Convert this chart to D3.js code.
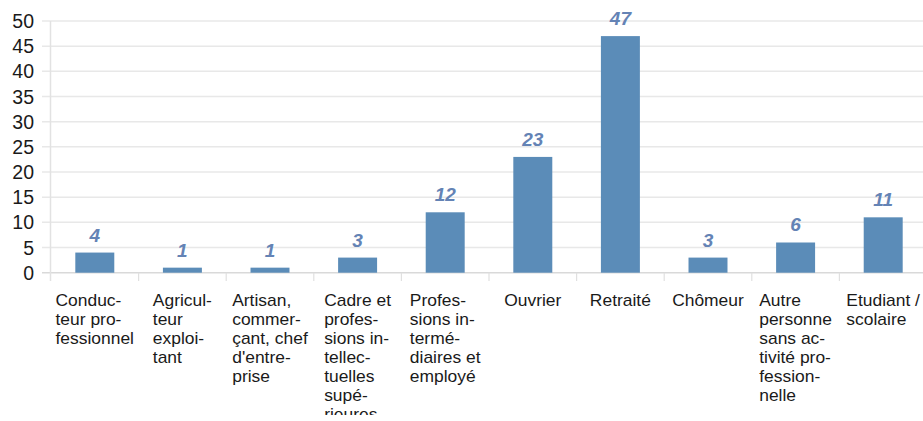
<!DOCTYPE html>
<html>
<head>
<meta charset="utf-8">
<script src="https://cdn.jsdelivr.net/npm/d3@7"></script>
<style>
  html, body { margin: 0; padding: 0; background: #fff; }
  svg { display: block; }
</style>
</head>
<body>
<svg id="chart" width="923" height="421"></svg>
<script>
// Répartition par catégorie socio-professionnelle
const categories = [
  ["Conduc-", "teur pro-", "fessionnel"],
  ["Agricul-", "teur", "exploi-", "tant"],
  ["Artisan,", "commer-", "çant, chef", "d'entre-", "prise"],
  ["Cadre et", "profes-", "sions in-", "tellec-", "tuelles", "supé-", "rieures"],
  ["Profes-", "sions in-", "termé-", "diaires et", "employé"],
  ["Ouvrier"],
  ["Retraité"],
  ["Chômeur"],
  ["Autre", "personne", "sans ac-", "tivité pro-", "fession-", "nelle"],
  ["Etudiant /", "scolaire"]
];
const values = [4, 1, 1, 3, 12, 23, 47, 3, 6, 11];
const yTicks = [0, 5, 10, 15, 20, 25, 30, 35, 40, 45, 50];

const svg = d3.select("#chart");

const x = d3.scaleBand()
  .domain(d3.range(categories.length))
  .range([51, 927])
  .paddingInner(0.555)
  .paddingOuter(0.2775);

const y = d3.scaleLinear().domain([0, 50]).range([272.7, 21]);

// clip for the category labels (the chart area ends just above the bottom edge)
svg.append("defs").append("clipPath").attr("id", "labelClip")
  .append("rect").attr("x", 0).attr("y", 280).attr("width", 923).attr("height", 135);

// horizontal gridlines
svg.append("g")
  .selectAll("line")
  .data(yTicks)
  .join("line")
  .attr("x1", 42).attr("x2", 923)
  .attr("y1", d => y(d)).attr("y2", d => y(d))
  .attr("stroke", d => d === 0 ? "#d9d9d9" : "#e8e8e8")
  .attr("stroke-width", 1.5);

// vertical axis line
svg.append("line")
  .attr("x1", 50.5).attr("x2", 50.5)
  .attr("y1", y(50)).attr("y2", 281)
  .attr("stroke", "#e2e2e2").attr("stroke-width", 1.5);

// category separators below the baseline
svg.append("g")
  .selectAll("line")
  .data(d3.range(1, categories.length))
  .join("line")
  .attr("x1", i => x(i) - x.step() * x.paddingInner() / 2)
  .attr("x2", i => x(i) - x.step() * x.paddingInner() / 2)
  .attr("y1", y(0)).attr("y2", 281)
  .attr("stroke", "#e0e0e0").attr("stroke-width", 1.2);

// y tick labels
svg.append("g")
  .selectAll("text")
  .data(yTicks)
  .join("text")
  .attr("x", 34)
  .attr("y", d => y(d))
  .attr("dy", "0.36em")
  .attr("text-anchor", "end")
  .attr("font-family", "Liberation Sans, Arial, sans-serif")
  .attr("font-size", 19.5)
  .attr("fill", "#1a1a1a")
  .text(d => d);

// bars
svg.append("g")
  .selectAll("rect")
  .data(values)
  .join("rect")
  .attr("x", (d, i) => x(i))
  .attr("width", x.bandwidth())
  .attr("y", d => y(d))
  .attr("height", d => y(0) - y(d))
  .attr("fill", "#5b8cb8");

// value labels
svg.append("g")
  .selectAll("text")
  .data(values)
  .join("text")
  .attr("x", (d, i) => x(i) + x.bandwidth() / 2)
  .attr("y", d => y(d) - 11)
  .attr("text-anchor", "middle")
  .attr("font-family", "Liberation Sans, Arial, sans-serif")
  .attr("font-size", 19)
  .attr("font-weight", "bold")
  .attr("font-style", "italic")
  .attr("fill", "#6483b5")
  .text(d => d);

// category labels: wrapped lines, block centred under each bar, slightly wide glyphs
const labelFont = 16;
const stretch = 1.09;
const lineH = 19;
const firstBase = 306.5;
const measure = svg.append("text")
  .attr("font-family", "Liberation Sans, Arial, sans-serif")
  .attr("font-size", labelFont)
  .attr("visibility", "hidden");

const labels = svg.append("g").attr("clip-path", "url(#labelClip)");
categories.forEach((lines, i) => {
  let w = 0;
  lines.forEach(l => {
    measure.text(l);
    w = Math.max(w, measure.node().getComputedTextLength());
  });
  const cx = x(i) + x.bandwidth() / 2;
  const left = cx - (w * stretch) / 2;
  const t = labels.append("text")
    .attr("transform", `translate(${left},0) scale(${stretch},1)`)
    .attr("font-family", "Liberation Sans, Arial, sans-serif")
    .attr("font-size", labelFont)
    .attr("fill", "#1a1a1a");
  lines.forEach((l, k) => {
    t.append("tspan")
      .attr("x", 0)
      .attr("y", firstBase + k * lineH)
      .text(l);
  });
});
measure.remove();
</script>
</body>
</html>
